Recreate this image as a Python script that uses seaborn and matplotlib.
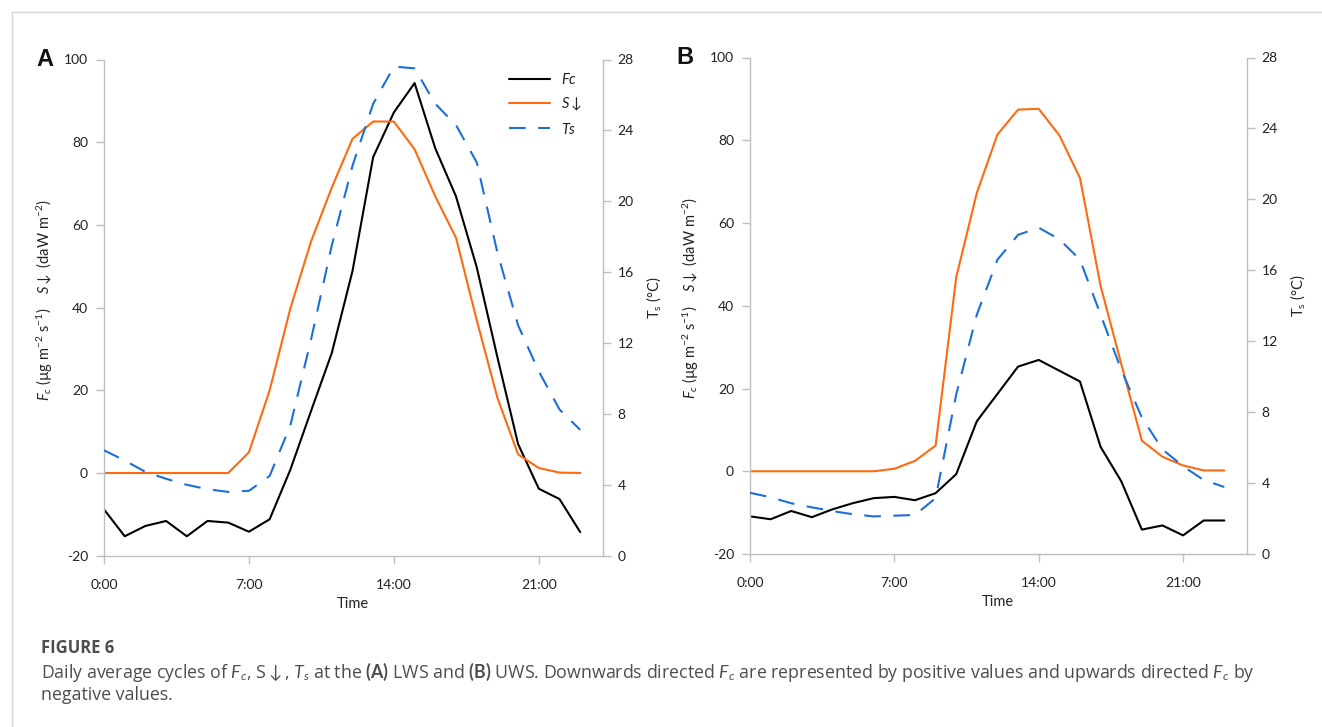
import matplotlib
matplotlib.use("Agg")
import matplotlib.pyplot as plt
import seaborn as sns
import pandas as pd
from matplotlib.lines import Line2D

# ---------------- data ----------------
hours = list(range(24))
tick_pos = [0, 7, 14, 21]
tick_labels = ["0:00", "7:00", "14:00", "21:00"]

fc_A = [-8.8, -15.3, -12.8, -11.6, -15.3, -11.6, -12.0, -14.2, -11.2, 0.8, 15.0, 29.0,
        48.8, 76.4, 87.2, 94.3, 78.5, 66.9, 49.8, 28.0, 7.0, -3.8, -6.3, -14.3]
s_A = [0, 0, 0, 0, 0, 0, 0, 5.0, 20.0, 39.8, 56.0, 69.0,
       80.8, 85.0, 85.0, 78.3, 66.9, 56.9, 37.0, 18.2, 4.5, 1.2, 0.1, 0.0]
ts_A = [5.95, 5.37, 4.73, 4.34, 4.0, 3.75, 3.6, 3.66, 4.5, 7.35, 12.2, 17.5,
        22.0, 25.5, 27.6, 27.5, 25.5, 24.3, 22.2, 17.1, 13.0, 10.4, 8.25, 7.1]

fc_B = [-10.9, -11.6, -9.6, -11.1, -9.2, -7.7, -6.5, -6.2, -7.0, -5.3, -0.7, 12.1,
        18.7, 25.3, 26.9, 24.3, 21.7, 5.9, -2.4, -14.1, -13.1, -15.5, -11.9, -11.9]
s_B = [0, 0, 0, 0, 0, 0, 0, 0.6, 2.5, 6.2, 46.9, 67.3,
       81.4, 87.4, 87.6, 81.2, 70.9, 44.8, 26.0, 7.4, 3.5, 1.4, 0.2, 0.2]
ts_B = [3.45, 3.2, 2.86, 2.63, 2.42, 2.24, 2.12, 2.16, 2.2, 3.15, 9.0, 13.5,
        16.6, 18.0, 18.4, 17.75, 16.6, 13.5, 10.4, 7.7, 5.9, 4.95, 4.17, 3.78]

left_ticks = [-20, 0, 20, 40, 60, 80, 100]
right_ticks = [0, 4, 8, 12, 16, 20, 24, 28]

# ---------------- style ----------------
sns.set_style("white")
plt.rcParams["font.family"] = ["Lato", "DejaVu Sans"]
plt.rcParams["mathtext.fontset"] = "custom"
plt.rcParams["mathtext.rm"] = "Lato"
plt.rcParams["mathtext.it"] = "Lato:italic"
plt.rcParams["mathtext.bf"] = "Lato:bold"
plt.rcParams["mathtext.fallback"] = "stixsans"

C_FC = "#000000"
C_S = "#FF6A10"
C_TS = "#1C6FD8"
SPINE = "#BFBFBF"
TXT = "#222222"
LW = 1.5
DASH = (8, 6)

fig = plt.figure(figsize=(13.22, 7.27), dpi=100)

# page border lines
fig.add_artist(Line2D([12 / 1322, 12 / 1322], [0, 1 - 12 / 727], color="#D5D5D5", lw=1, transform=fig.transFigure))
fig.add_artist(Line2D([12 / 1322, 1], [1 - 12 / 727, 1 - 12 / 727], color="#D5D5D5", lw=1, transform=fig.transFigure))

panels = [
    ("A", [104 / 1322, 1 - 555.7 / 727, 499 / 1322, 496.2 / 727], fc_A, s_A, ts_A, True, -0.118),
    ("B", [750 / 1322, 1 - 554 / 727, 497 / 1322, 496.5 / 727], fc_B, s_B, ts_B, False, -0.131),
]

ylab = r"$F_c$ (µg m$^{-2}$ s$^{-1}$)    $S$$\downarrow$ (daW m$^{-2}$)"

for letter, rect, fc, s, ts, show_leg, letter_x in panels:
    df = pd.DataFrame({"hour": hours, "Fc": fc, "S": s, "Ts": ts})
    ax = fig.add_axes(rect)
    ax2 = ax.twinx()
    sns.lineplot(data=df, x="hour", y="Fc", ax=ax, color=C_FC, lw=LW, label="Fc", legend=False)
    sns.lineplot(data=df, x="hour", y="S", ax=ax, color=C_S, lw=LW, label="S↓", legend=False)
    sns.lineplot(data=df, x="hour", y="Ts", ax=ax2, color=C_TS, lw=LW, label="Ts", legend=False)
    ax2.lines[0].set_dashes(DASH)

    ax.set_xlim(0, 24.1)
    ax.set_ylim(-20, 100)
    ax2.set_ylim(0, 28)
    ax.set_xticks(tick_pos)
    ax.set_xticklabels(tick_labels)
    ax.set_yticks(left_ticks)
    ax.set_yticklabels([str(v) for v in left_ticks])
    ax2.set_yticks(right_ticks)
    ax2.set_yticklabels([str(v) for v in right_ticks])

    for a in (ax, ax2):
        for sp in a.spines.values():
            sp.set_color(SPINE)
            sp.set_linewidth(1)
        a.spines["top"].set_visible(False)
    ax.spines["right"].set_visible(False)
    ax2.spines["left"].set_visible(False)
    ax2.spines["bottom"].set_visible(False)

    ax.tick_params(axis="y", direction="out", length=5.5, width=1, color=SPINE, labelsize=10, labelcolor=TXT, pad=6, left=True)
    ax.tick_params(axis="x", direction="out", length=5.5, width=1, color=SPINE, labelsize=10, labelcolor=TXT, pad=11, bottom=True)
    ax2.tick_params(axis="y", direction="out", length=5.5, width=1, color=SPINE, labelsize=10, labelcolor=TXT, pad=5, right=True)

    ax.set_xlabel("Time", fontsize=10.5, color=TXT)
    ax.xaxis.set_label_coords(0.498, -0.083)
    ax.set_ylabel(ylab, fontsize=10.5, color=TXT)
    ax.yaxis.set_label_coords(-0.098, 0.515)
    ax2.set_ylabel(r"T$_\mathregular{s}$ (°C)", fontsize=10.5, color=TXT, rotation=90)
    ax2.yaxis.set_label_coords(1.083, 0.52)

    ax.text(letter_x, 1.0, letter, transform=ax.transAxes, fontsize=17, fontweight="bold",
            family=["Liberation Sans", "DejaVu Sans"], ha="center", va="center", color="#111111")

    if show_leg:
        handles = [
            Line2D([], [], color=C_FC, lw=LW),
            Line2D([], [], color=C_S, lw=LW),
            Line2D([], [], color=C_TS, lw=LW, dashes=DASH),
        ]
        leg = ax.legend(handles, [r"$Fc$", r"$S$$\downarrow$", r"$Ts$"], loc="upper left",
                        bbox_to_anchor=(0.812, 0.975), frameon=False, fontsize=10.5,
                        handlelength=2.8, handletextpad=0.75, labelspacing=0.6,
                        borderpad=0, borderaxespad=0)
        for t in leg.get_texts():
            t.set_color(TXT)

# caption
CAP = "#4D4D4D"
fig.text(41 / 1322, 1 - 648 / 727, "FIGURE 6", fontsize=12, fontweight="bold",
         family=["Open Sans", "DejaVu Sans"], color=CAP, va="center", ha="left")
line1 = (r"Daily average cycles of $F_c$, S$\downarrow$, $T_s$ at the $\mathbf{(A)}$ LWS and "
         r"$\mathbf{(B)}$ UWS. Downwards directed $F_c$ are represented by positive values and "
         r"upwards directed $F_c$ by")
fig.text(41 / 1322, 1 - 672 / 727, line1, fontsize=12.8, family=["Open Sans", "DejaVu Sans"],
         color=CAP, va="center", ha="left")
fig.text(41 / 1322, 1 - 695 / 727, "negative values.", fontsize=12.8, family=["Open Sans", "DejaVu Sans"],
         color=CAP, va="center", ha="left")

fig.savefig("out.png", dpi=100)
